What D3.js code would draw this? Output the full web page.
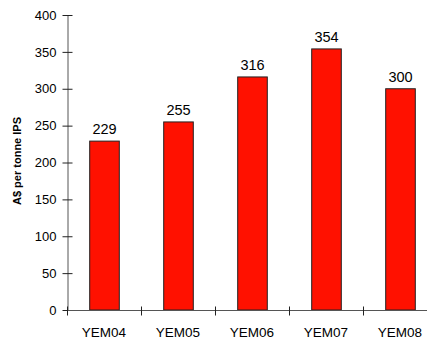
<!DOCTYPE html>
<html><head><meta charset="utf-8">
<script src="https://cdn.jsdelivr.net/npm/d3@7"></script>
<style>body{margin:0;background:#fff;overflow:hidden}svg{display:block}text{font-family:"Liberation Sans",Arial,sans-serif}</style>
</head><body><svg id="c" width="427" height="338"></svg>
<script>
const categories = ["YEM04","YEM05","YEM06","YEM07","YEM08"];
const values = [229,255,316,354,300];
const yTicks = [0,50,100,150,200,250,300,350,400];
const yLabel = "A$ per tonne IPS";

const svg = d3.select("#c");
const x0 = 67, x1 = 437, yTop = 15, yBot = 310;
const x = d3.scaleBand().domain(categories).range([x0, x1]).paddingInner(0.6).paddingOuter(0.3);
const xb = d3.scaleBand().domain(categories).range([x0, x1]);
const y = d3.scaleLinear().domain([0,400]).range([yBot, yTop]);

// bars
svg.selectAll("rect.bar").data(values).join("rect")
  .attr("x", (d,i)=>x(categories[i])+0.5)
  .attr("y", d=>y(d))
  .attr("width", x.bandwidth())
  .attr("height", d=>yBot-y(d))
  .attr("fill","#ff1100").attr("stroke","#222").attr("stroke-width",1);

// value labels
svg.selectAll("text.v").data(values).join("text")
  .attr("x",(d,i)=>x(categories[i])+x.bandwidth()/2+0.5)
  .attr("y",d=>y(d)-7)
  .attr("text-anchor","middle").attr("font-size",14.5).attr("fill","#000")
  .text(d=>d);

// y axis
const ya = svg.append("g").attr("transform",`translate(${x0+0.5},0)`)
  .call(d3.axisLeft(y).tickValues(yTicks).tickSize(5).tickSizeOuter(0));
ya.select(".domain").attr("stroke","#555");
ya.selectAll(".tick line").attr("stroke","#222").attr("x1",-5).attr("x2",5);
ya.selectAll(".tick text").attr("font-size",13).attr("x",-11).attr("fill","#000").style("font-family","Liberation Sans, Arial, sans-serif");

// x axis
const xa = svg.append("g").attr("transform",`translate(0,${yBot+0.5})`);
xa.append("line").attr("x1",x0).attr("x2",x1).attr("stroke","#555");
const bounds = categories.map(c=>xb(c)).concat([x1]);
xa.selectAll("line.t").data(bounds).join("line")
  .attr("x1",d=>Math.round(d)+0.5).attr("x2",d=>Math.round(d)+0.5)
  .attr("y1",-4).attr("y2",5).attr("stroke","#222");
xa.selectAll("text").data(categories).join("text")
  .attr("x",d=>xb(d)+xb.bandwidth()/2).attr("y",26)
  .attr("text-anchor","middle").attr("font-size",13.5).attr("fill","#000")
  .text(d=>d);

// y label
svg.append("text").attr("transform","translate(21,161) rotate(-90)")
  .attr("text-anchor","middle").attr("font-size",10.5).attr("font-weight","bold")
  .attr("textLength",88).attr("lengthAdjust","spacingAndGlyphs").text(yLabel);
</script></body></html>
